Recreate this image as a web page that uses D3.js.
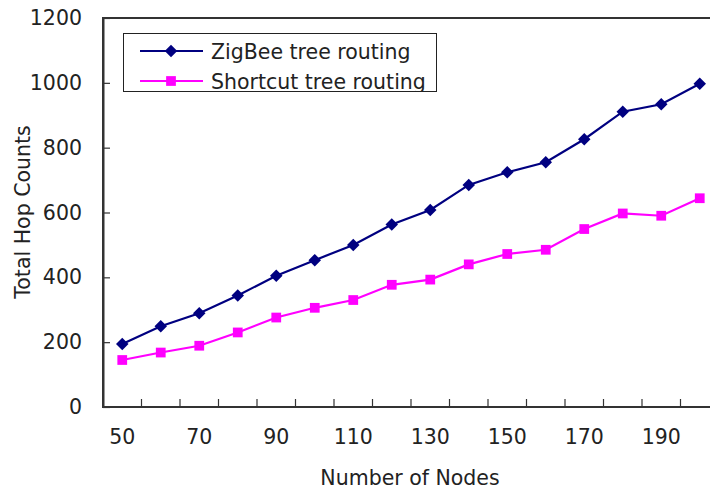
<!DOCTYPE html>
<html>
<head>
<meta charset="utf-8">
<script src="https://cdn.jsdelivr.net/npm/d3@7"></script>
<style>
  body { margin: 0; background: #fff; }
  svg { display: block; font-family: "DejaVu Sans", sans-serif; }
  .axis path, .axis line { stroke: #333; }
  .axis text { font-size: 20.5px; fill: #222; font-family: "DejaVu Sans", sans-serif; }
</style>
</head>
<body>
<svg id="chart"></svg>
<script>
// données
var nodes = [50, 60, 70, 80, 90, 100, 110, 120, 130, 140, 150, 160, 170, 180, 190, 200];
var zigbee = [194, 249, 289, 344, 405, 453, 500, 563, 608, 685, 724, 755, 826, 911, 934, 997];
var shortcut = [145, 168, 189, 230, 276, 306, 330, 377, 393, 440, 472, 485, 549, 597, 590, 644];
var yTicks = [0, 200, 400, 600, 800, 1000, 1200];
var xLabels = [50, 70, 90, 110, 130, 150, 170, 190];
var seriesNames = ["ZigBee tree routing", "Shortcut tree routing"];

var W = 710, H = 491;
var svg = d3.select("#chart").attr("width", W).attr("height", H);

var margin = {top: 18, left: 103, bottom: 84},
    plotRight = 719,
    height = H - margin.top - margin.bottom;

var x = d3.scaleBand()
    .domain(nodes)
    .range([margin.left, plotRight])
    .padding(0);
var bw = x.bandwidth();
var cx = function(d) { return x(d) + bw / 2; };

var y = d3.scaleLinear()
    .domain([0, 1200])
    .range([margin.top + height, margin.top]);

// cadre de la zone de tracé (coupé à droite comme l'original)
svg.append("rect")
    .attr("x", margin.left)
    .attr("y", margin.top)
    .attr("width", plotRight - margin.left)
    .attr("height", height)
    .attr("fill", "none")
    .attr("stroke", "#333")
    .attr("stroke-width", 2);

// axe y
var gy = svg.append("g")
    .attr("class", "axis")
    .attr("transform", "translate(" + margin.left + ",0)")
    .call(d3.axisLeft(y).tickValues(yTicks).tickFormat(d3.format("d"))
        .tickSize(-7).tickPadding(21).tickSizeOuter(0));
gy.select(".domain").attr("stroke-width", 2);
gy.selectAll(".tick line").attr("stroke-width", 1.2);

// axe x : graduations entre les catégories, une étiquette sur deux
var gx = svg.append("g")
    .attr("class", "axis")
    .attr("transform", "translate(0," + y(0) + ")");
gx.append("line")
    .attr("x1", margin.left).attr("x2", plotRight)
    .attr("stroke", "#333").attr("stroke-width", 2);
gx.selectAll(".tk")
    .data(nodes.slice(1))
    .enter().append("line")
    .attr("class", "tk")
    .attr("x1", function(d) { return x(d); })
    .attr("x2", function(d) { return x(d); })
    .attr("y1", 0).attr("y2", -8)
    .attr("stroke", "#333").attr("stroke-width", 1.2);
gx.selectAll(".lbl")
    .data(xLabels)
    .enter().append("text")
    .attr("class", "lbl")
    .attr("x", cx)
    .attr("y", 37)
    .attr("text-anchor", "middle")
    .text(function(d) { return d; });

// titres des axes
svg.append("text")
    .attr("x", 410)
    .attr("y", 485)
    .attr("text-anchor", "middle")
    .style("font-size", "20.5px")
    .attr("fill", "#222")
    .text("Number of Nodes");
svg.append("text")
    .attr("transform", "translate(30,212) rotate(-90)")
    .attr("text-anchor", "middle")
    .style("font-size", "20.5px")
    .attr("fill", "#222")
    .text("Total Hop Counts");

// séries
var line = d3.line()
    .x(function(d, i) { return cx(nodes[i]); })
    .y(function(d) { return y(d); });

var colors = ["#000080", "#ff00ff"];
var diamond = d3.symbol().type(d3.symbolDiamond2).size(100);
var square = d3.symbol().type(d3.symbolSquare).size(95);

[zigbee, shortcut].forEach(function(vals, k) {
    svg.append("path")
        .datum(vals)
        .attr("d", line)
        .attr("fill", "none")
        .attr("stroke", colors[k])
        .attr("stroke-width", 2.2);
    svg.selectAll(".m" + k)
        .data(vals)
        .enter().append("path")
        .attr("class", "m" + k)
        .attr("transform", function(d, i) { return "translate(" + cx(nodes[i]) + "," + y(d) + ")"; })
        .attr("d", k === 0 ? diamond : square)
        .attr("fill", colors[k]);
});

// légende
var leg = svg.append("g");
leg.append("rect")
    .attr("x", 123.5).attr("y", 33.5)
    .attr("width", 313).attr("height", 58)
    .attr("fill", "#fff")
    .attr("stroke", "#222")
    .attr("stroke-width", 1);
var legClip = svg.append("clipPath").attr("id", "legclip");
legClip.append("rect").attr("x", 124).attr("y", 34).attr("width", 312).attr("height", 57);
var legIn = leg.append("g").attr("clip-path", "url(#legclip)");
seriesNames.forEach(function(name, k) {
    var ly = 51 + k * 30;
    legIn.append("line")
        .attr("x1", 140).attr("x2", 203)
        .attr("y1", ly).attr("y2", ly)
        .attr("stroke", colors[k]).attr("stroke-width", 2.2);
    legIn.append("path")
        .attr("transform", "translate(171," + ly + ")")
        .attr("d", k === 0 ? diamond : square)
        .attr("fill", colors[k]);
    legIn.append("text")
        .attr("x", 211)
        .attr("y", ly + 8)
        .style("font-size", "20.5px")
        .attr("fill", "#222")
        .text(name);
});
</script>
</body>
</html>
